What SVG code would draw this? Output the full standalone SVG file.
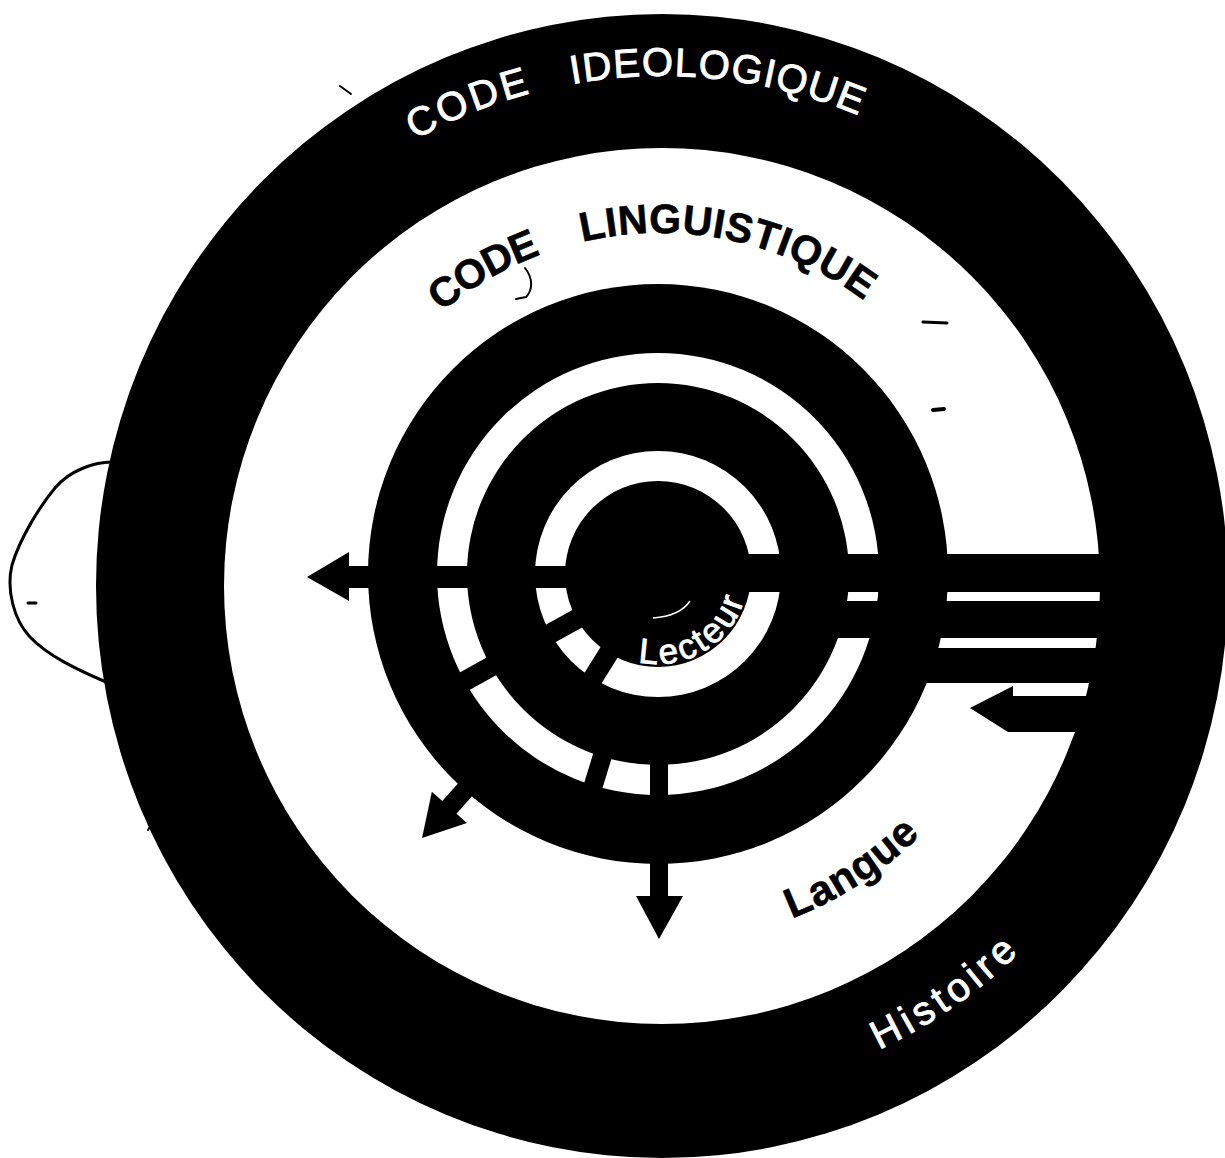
<svg xmlns="http://www.w3.org/2000/svg" width="1225" height="1158" viewBox="0 0 1225 1158">
<style>
  .ink{fill:#000}
  .paper{fill:#fff}
  .spoke{stroke:#000;stroke-linecap:butt;fill:none}
  .lbl-w{fill:#fff;stroke:#fff;stroke-width:0.9;font-family:"Liberation Sans",Arial,Helvetica,sans-serif}
  .lbl-b{fill:#000;stroke:#000;stroke-width:0.6;font-family:"Liberation Sans",Arial,Helvetica,sans-serif;font-weight:bold}
  .mark{fill:none;stroke:#000;stroke-linecap:round;stroke-linejoin:round}
</style>
<defs>
  <path id="arcIdeo" d="M 152 586 A 510 510 0 0 1 1172 586"/>
  <path id="arcLing" d="M 318 575 A 342 342 0 0 1 1002 575"/>
  <path id="arcLangue" d="M 341.3 759 A 368 368 0 0 0 978.7 759"/>
  <path id="arcHist" d="M 218.6 842 A 512 512 0 0 0 1105.4 842"/>
  <path id="arcLect" d="M 568 574 A 90 90 0 0 0 748 574"/>
</defs>
<rect width="1225" height="1158" fill="#fff"/>

<g id="code-ideologique">
  <ellipse class="ink" cx="662" cy="586" rx="566" ry="572"/>
  <circle class="paper" cx="662" cy="586" r="438"/>
</g>
<g id="code-linguistique">
  <circle class="ink" cx="658" cy="574" r="290"/>
</g>
<g id="langue">
  <circle class="paper" cx="658" cy="574" r="221"/>
  <circle class="ink" cx="658" cy="574" r="191"/>
</g>
<g id="ring-inner">
  <circle class="paper" cx="658" cy="574" r="123"/>
</g>
<g id="lecteur">
  <circle class="ink" cx="658" cy="574" r="93"/>
</g>

<g id="connectors">
  <!-- left band and arrow -->
  <rect class="ink" x="348" y="566" width="310" height="22"/>
  <polygon class="ink" points="307,577 349,552 349,601"/>
  <!-- right bands -->
  <rect class="ink" x="658" y="554" width="460" height="38"/>
  <rect class="ink" x="800" y="601" width="318" height="37"/>
  <rect class="ink" x="900" y="648" width="218" height="35"/>
  <!-- incoming arrow on right -->
  <polygon class="ink" points="970,708 1013,686 1013,696 1112,696 1112,732 1008,732"/>
  <!-- spokes -->
  <line class="spoke" x1="588" y1="612.8" x2="452.5" y2="687.9" stroke-width="20"/>
  <line class="spoke" x1="613" y1="646.1" x2="586.5" y2="688.5" stroke-width="20"/>
  <line class="spoke" x1="605.4" y1="746.1" x2="589.3" y2="798.7" stroke-width="19"/>
  <!-- down arrow -->
  <rect class="ink" x="650" y="710" width="18" height="187"/>
  <polygon class="ink" points="636,896 683,896 659,939"/>
  <!-- lower-left arrow -->
  <g transform="rotate(131.8 658 574)">
    <rect class="ink" x="926" y="564.5" width="46" height="19"/>
    <polygon class="ink" points="971,550.5 971,597.5 1012,574"/>
  </g>
</g>

<g id="labels">
  <text class="lbl-w" font-size="40">
    <textPath href="#arcIdeo" startOffset="543"><tspan letter-spacing="3">CODE</tspan><tspan dx="40" letter-spacing="1.2">IDEOLOGIQUE</tspan></textPath>
  </text>
  <text class="lbl-b" font-size="41">
    <textPath href="#arcLing" startOffset="300"><tspan letter-spacing="-1">CODE</tspan><tspan dx="44" letter-spacing="0.5">LINGUISTIQUE</tspan></textPath>
  </text>
  <text class="lbl-b" font-size="42" letter-spacing="1">
    <textPath href="#arcLangue" startOffset="520">Langue</textPath>
  </text>
  <text class="lbl-w" font-size="40" letter-spacing="5">
    <textPath href="#arcHist" startOffset="760">Histoire</textPath>
  </text>
  <text class="lbl-w" font-size="35" letter-spacing="3">
    <textPath href="#arcLect" startOffset="121">Lecteur</textPath>
  </text>
</g>

<g id="marks">
  <path class="mark" stroke-width="3" d="M112,462 C95,462 70,470 55,488 C40,506 20,538 12,565 C6,590 14,620 30,637 C48,656 78,670 106,682"/>
  <line class="mark" stroke-width="3" x1="28" y1="603" x2="36" y2="603"/>
  <line class="mark" stroke-width="3" x1="205" y1="883" x2="225" y2="884"/>
  <line class="mark" stroke-width="3" x1="923" y1="322" x2="947" y2="323"/>
  <line class="mark" stroke-width="4" x1="933" y1="410" x2="944" y2="409"/>
  <line class="mark" stroke-width="2" x1="340" y1="86" x2="351" y2="94"/>
  <line class="mark" stroke-width="2" x1="148" y1="830" x2="155" y2="818"/>
  <path class="mark" stroke-width="2" d="M525,268 C533,278 533,290 526,297 L516,299"/>
  <path fill="none" stroke="#fff" stroke-width="1.5" d="M653,618 Q680,616 690,601"/>
</g>
</svg>
